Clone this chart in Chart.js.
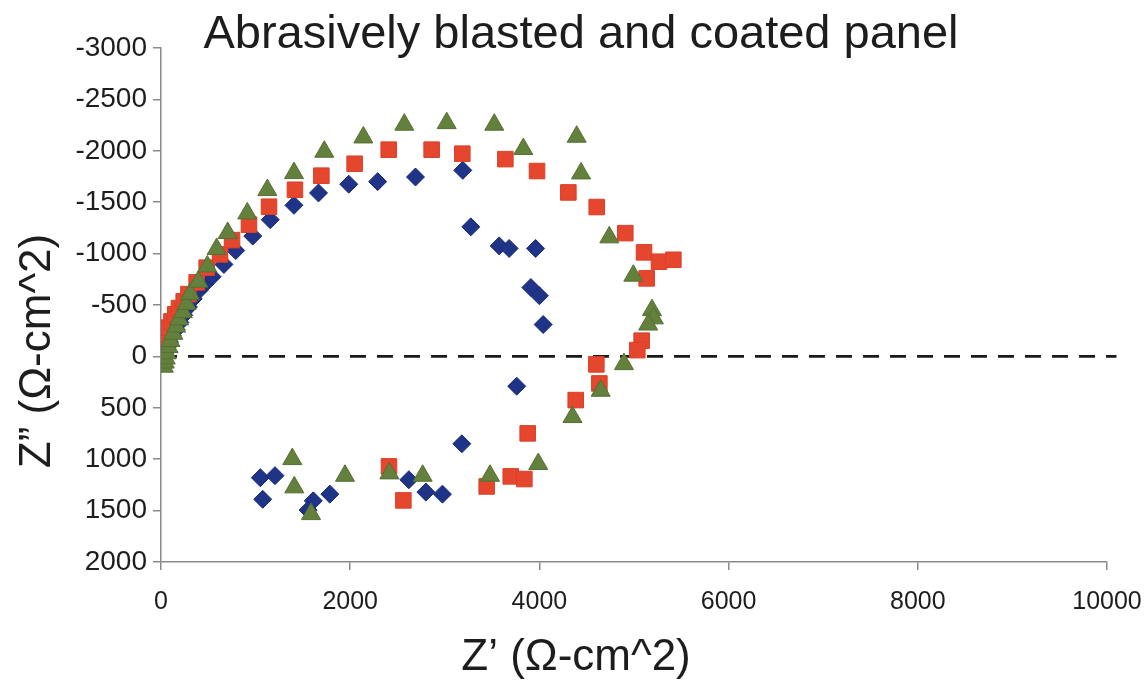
<!DOCTYPE html>
<html>
<head>
<meta charset="utf-8">
<script src="https://cdn.jsdelivr.net/npm/chart.js@4.4.1/dist/chart.umd.min.js"></script>
<style>
  html, body { margin: 0; padding: 0; background: #ffffff; }
  #wrap { width: 1147px; height: 693px; position: relative; }
</style>
</head>
<body>
<div id="wrap"><canvas id="nyquist" width="1147" height="693"></canvas></div>
<script>
// Labels
const chartTitle = 'Abrasively blasted and coated panel';
const xAxisTitle = 'Z\u2019 (\u03A9-cm^2)';
const yAxisTitle = 'Z\u201D (\u03A9-cm^2)';

// Axis ticks (Z'' axis runs from -3000 at the top to 2000 at the bottom)
const xTicks = [0, 2000, 4000, 6000, 8000, 10000];
const yTicks = [-3000, -2500, -2000, -1500, -1000, -500, 0, 500, 1000, 1500, 2000];

// Zero reference line
const zeroLine = [[0, 0], [10100, 0]];

// Impedance readings [Z', Z'']
const diamondSeries = [
  [20, 40], [30, 0], [45, -40], [65, -90], [90, -140], [120, -200], [160, -260],
  [200, -330], [240, -400], [290, -480], [340, -560], [400, -640], [460, -700],
  [540, -775], [665, -895], [790, -1030], [970, -1170], [1155, -1330], [1405, -1470],
  [1665, -1590], [1985, -1675], [2290, -1700], [2690, -1745], [3190, -1810],
  [3275, -1260], [3575, -1075], [3680, -1050], [3960, -1050], [3910, -670],
  [4000, -590], [4040, -310], [3760, 290], [3180, 850], [1050, 1180], [1205, 1160],
  [1075, 1390], [1610, 1405], [1555, 1495], [1785, 1340], [2620, 1200], [2800, 1320],
  [2975, 1340]
];

const squareSeries = [
  [10, 20], [10, -40], [15, -100], [25, -160], [45, -220], [75, -280], [110, -340],
  [150, -410], [190, -470], [240, -535], [290, -606], [377, -720], [483, -863],
  [624, -992], [751, -1131], [930, -1281], [1142, -1456], [1416, -1621], [1695, -1758],
  [2047, -1874], [2407, -2011], [2861, -2011], [3185, -1972], [3640, -1919],
  [3975, -1803], [4306, -1595], [4606, -1453], [4908, -1199], [5106, -1012],
  [5264, -921], [5416, -940], [5134, -759], [5081, -153], [5035, -61], [4602, 78],
  [4634, 263], [4384, 425], [3876, 749], [3697, 1167], [3841, 1193], [3443, 1265],
  [2410, 1070], [2562, 1401]
];

const triangleSeries = [
  [30, 100], [40, 60], [50, 20], [60, -30], [80, -90], [100, -150], [130, -220],
  [160, -290], [190, -360], [230, -430], [270, -510], [307, -606], [394, -727],
  [490, -875], [588, -1044], [705, -1200], [912, -1391], [1124, -1618], [1406, -1783],
  [1726, -1991], [2139, -2130], [2572, -2254], [3020, -2269], [3523, -2254],
  [3830, -2017], [4394, -2137], [4440, -1780], [4739, -1158], [4993, -785],
  [5190, -450], [5210, -370], [5150, -310], [4894, 75], [4648, 334], [4350, 590],
  [3988, 1047], [3478, 1161], [2766, 1161], [2414, 1138], [1945, 1161], [1388, 999],
  [1409, 1274], [1586, 1534]
];

const toPoints = arr => arr.map(([x, y]) => ({ x, y }));

const FONT = '"Liberation Sans", Arial, Helvetica, sans-serif';
const TEXT = '#1d1d1d';
const AXIS = '#8a8a8a';

// Title and axis captions, centred on the page
const captions = {
  id: 'captions',
  afterDraw(chart) {
    const ctx = chart.ctx;
    ctx.save();
    ctx.fillStyle = TEXT;
    ctx.textAlign = 'center';
    ctx.textBaseline = 'middle';
    ctx.font = '47px ' + FONT;
    ctx.fillText(chartTitle, 581, 35);
    ctx.font = '44px ' + FONT;
    ctx.fillText(xAxisTitle, 576, 658);
    ctx.translate(38, 351);
    ctx.rotate(-Math.PI / 2);
    ctx.fillText(yAxisTitle, 0, 0);
    ctx.restore();
  }
};

const plainNumber = v => String(v);

new Chart(document.getElementById('nyquist'), {
  type: 'scatter',
  data: {
    datasets: [
      {
        label: 'Zero',
        type: 'line',
        data: toPoints(zeroLine),
        borderColor: '#1a1a1a',
        borderWidth: 2.6,
        borderDash: [16, 11],
        pointRadius: 0,
        fill: false,
        clip: false,
        order: 4
      },
      {
        label: 'Diamonds',
        data: toPoints(diamondSeries),
        pointStyle: 'rectRot',
        pointRadius: 9,
        backgroundColor: '#1f3487',
        borderColor: '#1a2c78',
        borderWidth: 1,
        order: 3
      },
      {
        label: 'Squares',
        data: toPoints(squareSeries),
        pointStyle: 'rect',
        pointRadius: 11,
        backgroundColor: '#e5462e',
        borderColor: '#dc3f28',
        borderWidth: 1,
        order: 2
      },
      {
        label: 'Triangles',
        data: toPoints(triangleSeries),
        pointStyle: 'triangle',
        pointRadius: 11,
        backgroundColor: '#63803d',
        borderColor: '#566f33',
        borderWidth: 1,
        order: 1
      }
    ]
  },
  options: {
    responsive: false,
    animation: false,
    devicePixelRatio: 1,
    layout: { padding: { top: 48, right: 40, left: 0, bottom: 0 } },
    plugins: {
      legend: { display: false },
      title: { display: false },
      tooltip: { enabled: false }
    },
    scales: {
      x: {
        type: 'linear',
        min: xTicks[0],
        max: xTicks[xTicks.length - 1],
        afterBuildTicks: s => { s.ticks = xTicks.map(v => ({ value: v })); },
        afterFit: s => { s.height = 131; s.paddingLeft = 0; s.paddingRight = 0; },
        border: { display: true, color: AXIS, width: 1.5 },
        grid: { display: true, drawOnChartArea: false, drawTicks: true, tickLength: 8, color: AXIS, lineWidth: 1.5 },
        ticks: { color: TEXT, font: { family: FONT, size: 25 }, padding: 17, maxRotation: 0, callback: plainNumber }
      },
      y: {
        type: 'linear',
        reverse: true,
        min: yTicks[0],
        max: yTicks[yTicks.length - 1],
        afterBuildTicks: s => { s.ticks = yTicks.map(v => ({ value: v })); },
        afterFit: s => { s.width = 161; },
        border: { display: true, color: AXIS, width: 1.5 },
        grid: { display: true, drawOnChartArea: false, drawTicks: true, tickLength: 8, color: AXIS, lineWidth: 1.5 },
        ticks: { color: TEXT, font: { family: FONT, size: 28 }, padding: 6, callback: plainNumber }
      }
    }
  },
  plugins: [captions]
});
</script>
</body>
</html>
